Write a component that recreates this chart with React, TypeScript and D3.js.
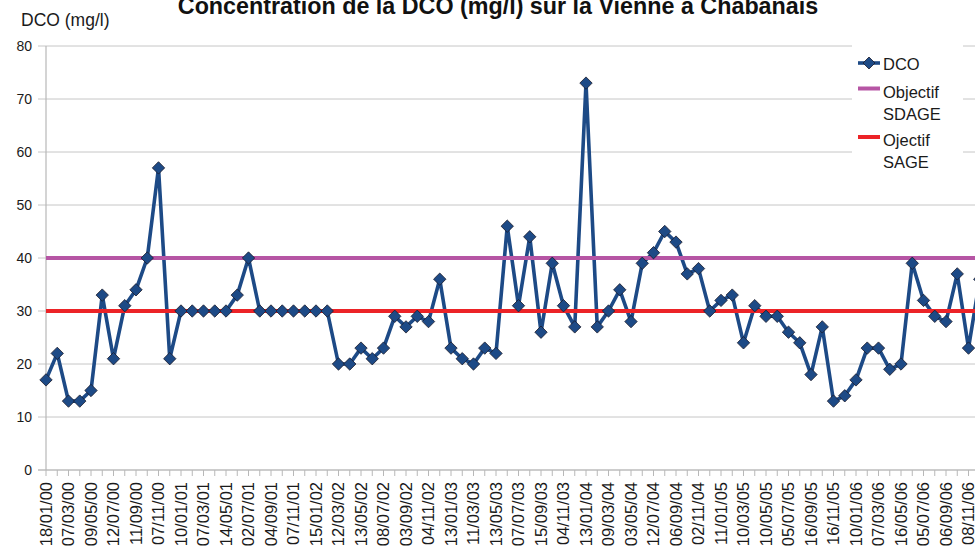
import React from "react";
import * as d3 from "d3";

const dateLabels = [
  "18/01/00", "07/03/00", "09/05/00", "12/07/00", "11/09/00", "07/11/00",
  "10/01/01", "07/03/01", "14/05/01", "02/07/01", "04/09/01", "07/11/01",
  "15/01/02", "12/03/02", "13/05/02", "08/07/02", "03/09/02", "04/11/02",
  "13/01/03", "11/03/03", "13/05/03", "07/07/03", "15/09/03", "04/11/03",
  "13/01/04", "09/03/04", "03/05/04", "12/07/04", "06/09/04", "02/11/04",
  "11/01/05", "10/03/05", "10/05/05", "05/07/05", "16/09/05", "16/11/05",
  "10/01/06", "07/03/06", "16/05/06", "05/07/06", "06/09/06", "08/11/06",
];

const dcoValues = [
  17, 22, 13, 13, 15, 33, 21, 31, 34, 40, 57, 21, 30, 30, 30, 30, 30, 33, 40, 30,
  30, 30, 30, 30, 30, 30, 20, 20,
  23, 21, 23, 29, 27, 29, 28, 36, 23, 21, 20, 23, 22, 46, 31, 44, 26, 39, 31, 27,
  73, 27, 30, 34, 28, 39,
  41, 45, 43, 37, 38, 30, 32, 33, 24, 31, 29, 29, 26, 24, 18, 27, 13, 14, 17, 23,
  23, 19, 20, 39, 32, 29, 28, 37, 23, 36,
];

const objectifSDAGE = 40;
const objectifSAGE = 30;
const yTicks = [0, 10, 20, 30, 40, 50, 60, 70, 80];
const labelEvery = 2;

const W = 975;
const H = 551;
const FONT = "'Liberation Sans', Arial, Helvetica, sans-serif";
const BLUE = "#1d4a86";
const PURPLE = "#b655a4";
const RED = "#ec2327";
const GRID = "#c6c6c6";

export default function App() {
  const x = d3.scaleLinear().domain([0, 1]).range([46, 46 + 11.25]);
  const y = d3.scaleLinear().domain([0, 80]).range([470, 46]);
  const idx = d3.range(dcoValues.length);
  const xEnd = W + 20;

  const line = d3
    .line<number>()
    .x((_, i) => x(i))
    .y((d) => y(d));

  const diamond = (cx: number, cy: number, r: number) =>
    `M${cx},${cy - r}L${cx + r},${cy}L${cx},${cy + r}L${cx - r},${cy}Z`;

  const legendX = 858;

  return (
    <svg
      width={W}
      height={H}
      style={{ position: "absolute", left: 0, top: 0, background: "#fff" }}
      fontFamily={FONT}
    >
      <rect x={0} y={0} width={W} height={H} fill="#fff" />
      {yTicks.map((t) => (
        <g key={t}>
          <line x1={38} x2={xEnd} y1={y(t)} y2={y(t)} stroke={GRID} strokeWidth={1} />
          <text x={32} y={y(t)} dy="0.35em" textAnchor="end" fontSize={14} fill="#1a1a1a">
            {t}
          </text>
        </g>
      ))}
      <line x1={x(0)} x2={x(0)} y1={y(80)} y2={y(0)} stroke="#b8b8b8" strokeWidth={1.2} />
      <line x1={38} x2={xEnd} y1={y(0)} y2={y(0)} stroke="#b8b8b8" strokeWidth={1.2} />
      {idx.map((i) => (
        <line key={i} x1={x(i)} x2={x(i)} y1={y(0)} y2={y(0) + 6} stroke="#b8b8b8" strokeWidth={1} />
      ))}
      {dateLabels.map((lab, k) => {
        const xi = x(k * labelEvery);
        return (
          <text
            key={lab + k}
            transform={`translate(${xi},482) rotate(-90)`}
            textAnchor="end"
            dy="0.36em"
            fontSize={16.5}
            fill="#1a1a1a"
          >
            {lab}
          </text>
        );
      })}
      <path d={line(dcoValues) || ""} fill="none" stroke={BLUE} strokeWidth={3.6} strokeLinejoin="round" />
      <line x1={x(0)} x2={xEnd} y1={y(objectifSDAGE)} y2={y(objectifSDAGE)} stroke={PURPLE} strokeWidth={4} />
      <line x1={x(0)} x2={xEnd} y1={y(objectifSAGE)} y2={y(objectifSAGE)} stroke={RED} strokeWidth={4} />
      {dcoValues.map((v, i) => (
        <path key={i} d={diamond(x(i), y(v), 6.2)} fill={BLUE} stroke="#1a1a2a" strokeWidth={0.8} />
      ))}
      <text x={498} y={14} textAnchor="middle" fontSize={23.3} fontWeight="bold" fill="#111">
        Concentration de la DCO (mg/l) sur la Vienne à Chabanais
      </text>
      <text x={21} y={26} fontSize={17.5} fill="#1a1a1a">
        DCO (mg/l)
      </text>
      <rect x={852} y={40} width={111} height={136} fill="#fff" />
      <line x1={legendX} x2={legendX + 22} y1={63} y2={63} stroke={BLUE} strokeWidth={3.6} />
      <path d={diamond(legendX + 11, 63, 6)} fill={BLUE} stroke="#1a1a2a" strokeWidth={0.8} />
      <text x={883} y={70} fontSize={16.5} fill="#1a1a1a">DCO</text>
      <line x1={legendX} x2={legendX + 22} y1={88.5} y2={88.5} stroke={PURPLE} strokeWidth={4} />
      <text x={883} y={98} fontSize={16.5} fill="#1a1a1a">Objectif</text>
      <text x={883} y={120} fontSize={16.5} fill="#1a1a1a">SDAGE</text>
      <line x1={legendX} x2={legendX + 22} y1={137} y2={137} stroke={RED} strokeWidth={4} />
      <text x={883} y={146} fontSize={16.5} fill="#1a1a1a">Ojectif</text>
      <text x={883} y={168} fontSize={16.5} fill="#1a1a1a">SAGE</text>
    </svg>
  );
}
